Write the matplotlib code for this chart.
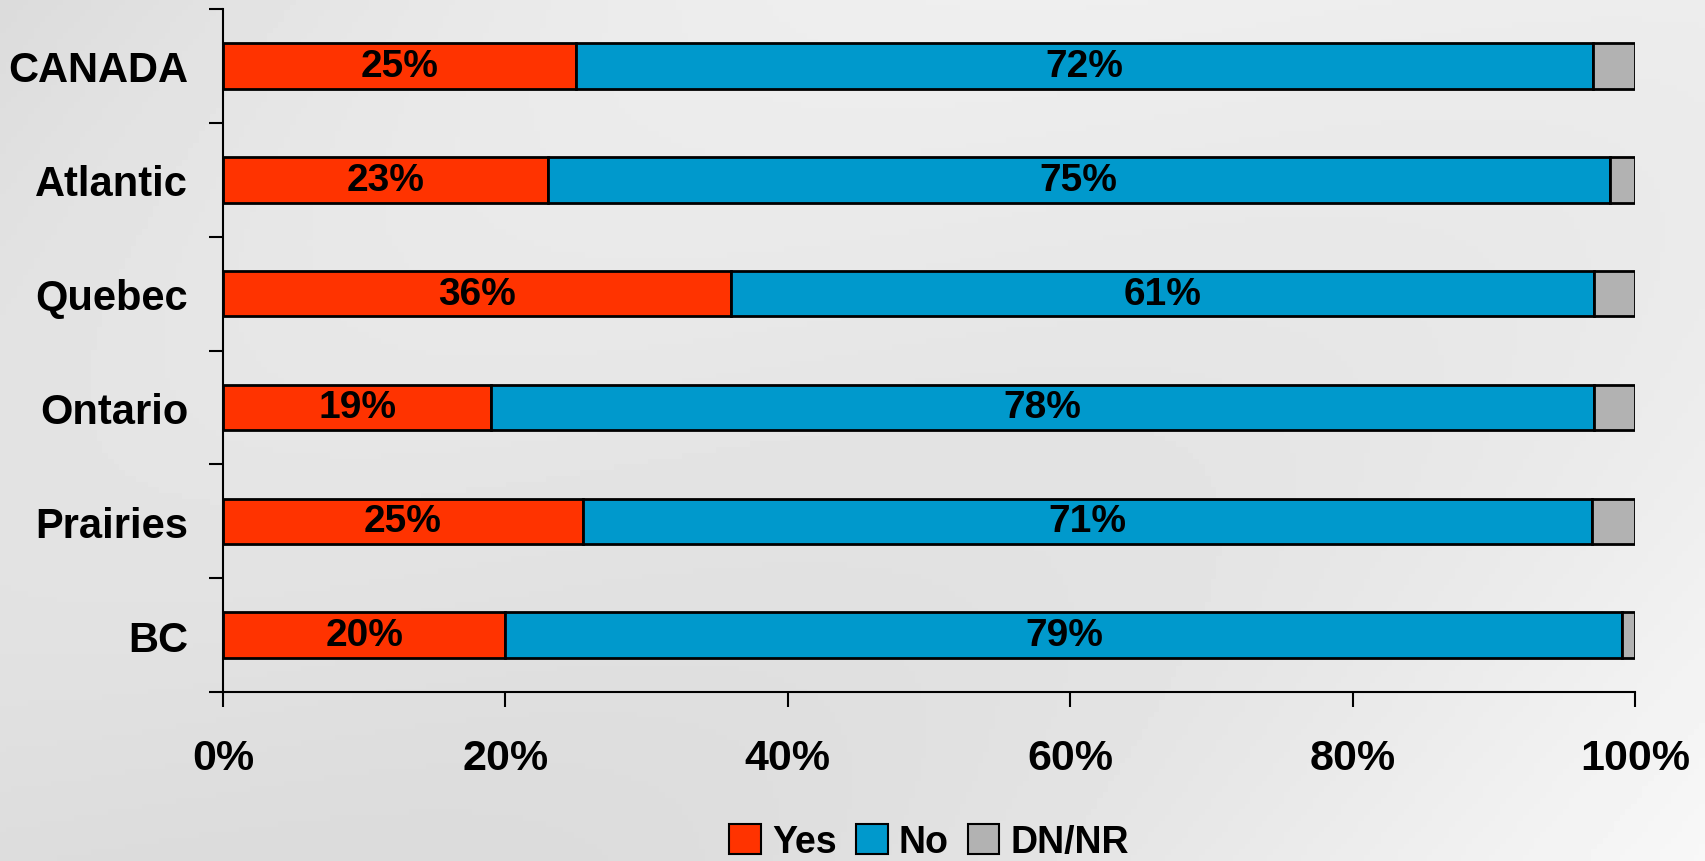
import numpy as np
import matplotlib
matplotlib.use("Agg")
import matplotlib.pyplot as plt
from matplotlib.patches import Patch

plt.rcParams['font.family'] = ['Liberation Sans', 'DejaVu Sans']
plt.rcParams['font.weight'] = 'bold'

regions = ["CANADA", "Atlantic", "Quebec", "Ontario", "Prairies", "BC"]
yes = [25, 23, 36, 19, 25.49, 20]
no = [72, 75.2, 61.1, 78.1, 71.49, 79.1]
dnnr = [3, 1.8, 2.9, 2.9, 3.02, 0.9]
xticks = [0, 20, 40, 60, 80, 100]

c_yes = "#FF3300"
c_no = "#0099CC"
c_dn = "#B2B2B2"

fig = plt.figure(figsize=(17.05, 8.62), dpi=100)

# soft grey backdrop
bg = fig.add_axes([0, 0, 1, 1], zorder=-10)
xx, yy = np.meshgrid(np.linspace(0, 1, 300), np.linspace(0, 1, 150))
shade = 0.86 + 0.09 * xx + 0.03 * np.sin(yy * 3 + xx * 4)
bg.imshow(shade, cmap="gray", vmin=0, vmax=1, aspect="auto", extent=[0, 1, 0, 1])
bg.axis("off")

ax = fig.add_axes([0.1308, 0.196, 0.8282, 0.7924])
ax.patch.set_alpha(0)

y = np.arange(len(regions))
h = 0.4
lw = 2
ax.barh(y, yes, height=h, color=c_yes, edgecolor="black", linewidth=lw, label="Yes")
ax.barh(y, no, left=yes, height=h, color=c_no, edgecolor="black", linewidth=lw, label="No")
left2 = [a + b for a, b in zip(yes, no)]
ax.barh(y, dnnr, left=left2, height=h, color=c_dn, edgecolor="black", linewidth=lw, label="DN/NR")

for i in range(len(regions)):
    ax.text(yes[i] / 2, y[i], f"{yes[i]:.0f}%", ha="center", va="center",
            fontsize=28, fontweight="bold")
    ax.text(yes[i] + no[i] / 2, y[i], f"{no[i]:.0f}%", ha="center", va="center",
            fontsize=28, fontweight="bold")

ax.set_xlim(0, 100)
ax.set_ylim(len(regions) - 0.5, -0.5)
ax.set_xticks(xticks)
ax.set_xticklabels([f"{t}%" for t in xticks], fontsize=31, fontweight="bold")
ax.set_yticks(y)
ax.set_yticklabels(regions, fontsize=30, fontweight="bold")
ax.set_yticks(np.arange(-0.5, len(regions)), minor=True)
ax.tick_params(axis="y", which="major", length=0, pad=25)
ax.tick_params(axis="y", which="minor", length=10, width=1.5, direction="out")
ax.tick_params(axis="x", length=11, width=1.5, direction="out", pad=22)

for s in ["top", "right"]:
    ax.spines[s].set_visible(False)
for s in ["left", "bottom"]:
    ax.spines[s].set_linewidth(1.5)

handles = [Patch(facecolor=c, edgecolor="black", linewidth=1.5) for c in (c_yes, c_no, c_dn)]
fig.legend(handles, ["Yes", "No", "DN/NR"], loc="center", bbox_to_anchor=(0.545, 0.022),
           ncol=3, frameon=False, handlelength=0.85, handleheight=0.85,
           handletextpad=0.3, columnspacing=0.5, prop={"weight": "bold", "size": 27})

fig.savefig("out.png", dpi=100)
